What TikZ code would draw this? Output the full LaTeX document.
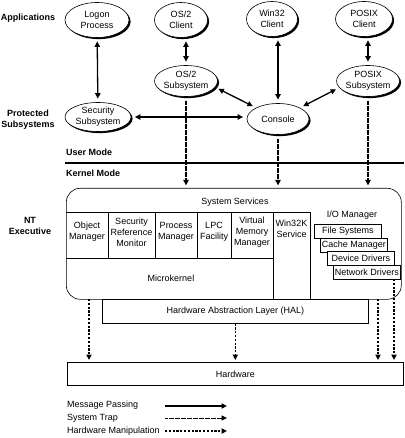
\documentclass[tikz,border=0pt]{standalone}
\usepackage{fontspec}
\setmainfont{Liberation Sans}
\usepackage{xcolor}
\usepackage{tikz}
\usetikzlibrary{positioning, arrows.meta, shapes.geometric, shadows}
\definecolor{ink}{RGB}{0,0,0}
\definecolor{paper}{RGB}{255,255,255}

\begin{document}
\begin{tikzpicture}[
  x=1pt, y=-1pt,
  font=\fontsize{9}{11}\selectfont,
  >={Triangle[length=5.5pt, width=5.2pt]},
  proc/.style={ellipse, draw=ink, fill=paper, line width=0.6pt, inner sep=0pt,
               align=center,
               drop shadow={shadow xshift=1.6pt, shadow yshift=-1.6pt,
                            fill=ink, opacity=1}},
  cell/.style={align=center, inner sep=0pt},
  iobox/.style={draw=ink, fill=paper, line width=0.6pt, inner sep=0pt,
                minimum width=67pt, minimum height=14pt, anchor=north west},
  layer/.style={draw=ink, line width=0.6pt, inner sep=0pt, anchor=north west},
  rule/.style={draw=ink, line width=0.6pt},
  msg/.style={<->, draw=ink, line width=1.3pt, shorten <=3.5pt, shorten >=3.5pt},
  trap/.style={->, draw=ink, line width=1.2pt, dash pattern=on 0.5pt off 0.7pt},
  hwm/.style={->, draw=ink, line width=1.4pt, dash pattern=on 2.2pt off 1.6pt},
  tier/.style={font=\fontsize{9}{11}\selectfont\bfseries, align=center, inner sep=0pt}]

  \useasboundingbox (0,0) rectangle (404,438);

  % tier labels
  \node[tier] (lapp)  at (28, 18) {Applications};
  \node[tier] (lprot) at (28,120) {Protected\\Subsystems};
  \node[tier] (lexec) at (30,226) {NT\\Executive};
  \node[tier, anchor=west] (luser) at (66,152) {User Mode};
  \node[tier, anchor=west] (lkern) at (66,173) {Kernel Mode};
  \draw[ink, line width=2pt] (65,163) -- (404,163);

  % user mode processes
  \node[proc, minimum width=64pt, minimum height=35pt] (logon)   at ( 97, 20) {Logon\\Process};
  \node[proc, minimum width=53pt, minimum height=35pt] (os2c)    at (181, 20) {OS/2\\Client};
  \node[proc, minimum width=51pt, minimum height=35pt] (w32c)    at (272, 19) {Win32\\Client};
  \node[proc, minimum width=57pt, minimum height=35pt] (posixc)  at (364, 19) {POSIX\\Client};
  \node[proc, minimum width=57pt, minimum height=31pt] (os2s)    at (186, 81) {OS/2\\Subsystem};
  \node[proc, minimum width=60pt, minimum height=31pt] (posixs)  at (368, 81) {POSIX\\Subsystem};
  \node[proc, minimum width=66pt, minimum height=29pt] (secs)    at ( 98,117) {Security\\Subsystem};
  \node[proc, minimum width=62pt, minimum height=31pt] (console) at (278,119) {Console};

  \draw[msg] (logon) -- (secs);
  \draw[msg] (os2s.north) -- (os2s.north |- os2c.south);
  \draw[msg] (console.north) -- (console.north |- w32c.south);
  \draw[msg] (posixs.north) -- (posixs.north |- posixc.south);
  \draw[msg] (secs.east) -- (secs.east -| console.west);
  \draw[msg] (os2s.348) -- (console.153);
  \draw[msg] (posixs.193) -- (console.27);

  % executive
  \node[layer, rounded corners=14pt, minimum width=335pt, minimum height=111pt]
    (exec) at (66,188) {};
  \node (sysserv) at (235,202) {System Services};
  \draw[rule] (66,212) -- (310,212);
  \draw[rule] (66,258) -- (273,258);
  \foreach \x in {108,155,197,231}
    \draw[rule] (\x,212) -- (\x,258);
  \foreach \x in {273,310}
    \draw[rule] (\x,212) -- (\x,299);

  \node[cell] (objm)  at ( 87,232) {Object\\Manager};
  \node[cell] (srm)   at (131.5,232) {Security\\Reference\\Monitor};
  \node[cell] (procm) at (176,232) {Process\\Manager};
  \node[cell] (lpc)   at (214,232) {LPC\\Facility};
  \node[cell] (vmm)   at (252,232) {Virtual\\Memory\\Manager};
  \node[cell] (w32k)  at (291.5,229) {Win32K\\Service};
  \node (mkernel) at (171,278) {Microkernel};
  \node (iomgr)   at (352,215) {I/O Manager};

  \node[iobox] (fs) at (314,224)   {File Systems};
  \node[iobox] (cm) at (320,237.5) {Cache Manager};
  \node[iobox] (dd) at (327,251)   {Device Drivers};
  \node[iobox] (nd) at (333,264.5) {Network Drivers};

  \node[layer, minimum width=266pt, minimum height=24pt] (hal) at (102,299)
    {Hardware Abstraction Layer (HAL)};
  \node[layer, minimum width=336pt, minimum height=23pt] (hw) at (67,362) {Hardware};

  % system traps
  \draw[trap, shorten <=4pt, shorten >=2.5pt] (os2s.south) -- (os2s.south |- exec.north);
  \draw[trap, shorten <=4pt, shorten >=2.5pt] (console.south) -- (console.south |- exec.north);
  \draw[trap, shorten <=4pt, shorten >=2.5pt] (posixs.south) -- (posixs.south |- exec.north);

  % hardware manipulation
  \coordinate (hm1) at ( 89,299);
  \coordinate (hm3) at (378,299);
  \coordinate (hm4) at (394,279);
  \draw[hwm, shorten >=2pt] (hm1) -- (hm1 |- hw.north);
  \draw[hwm, shorten >=2pt] (hal.south) -- (hal.south |- hw.north);
  \draw[hwm, shorten >=2pt] (hm3) -- (hm3 |- hw.north);
  \draw[hwm, shorten >=2pt] (hm4) -- (hm4 |- hw.north);

  % legend
  \node[anchor=west, inner sep=0pt] (kmsg)  at (67,405) {Message Passing};
  \node[anchor=west, inner sep=0pt] (ktrap) at (67,418) {System Trap};
  \node[anchor=west, inner sep=0pt] (khwm)  at (67,431) {Hardware Manipulation};
  \coordinate (k1) at (165,406);
  \coordinate (k2) at (165,418);
  \coordinate (k3) at (165,431);
  \draw[->, ink, line width=1.3pt] (k1) -- ++(62,0);
  \draw[trap, line width=0.9pt] (k2) -- ++(62,0);
  \draw[hwm, line width=1.2pt] (k3) -- ++(62,0);
\end{tikzpicture}
\end{document}
